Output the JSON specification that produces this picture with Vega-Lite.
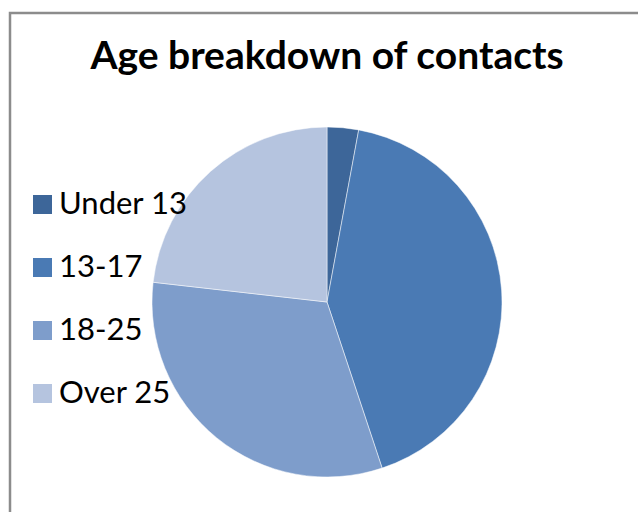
{
  "$schema": "https://vega.github.io/schema/vega-lite/v6.json",
  "autosize": "none",
  "width": 634,
  "height": 578,
  "padding": {"left": 10, "top": 13, "right": -6, "bottom": -79},
  "background": "white",
  "view": {"stroke": "#8c8c8c", "strokeWidth": 2.5},
  "title": {
    "text": "Age breakdown of contacts",
    "font": "Lato",
    "fontSize": 39,
    "fontWeight": "bold",
    "color": "black",
    "anchor": "middle",
    "frame": "group",
    "offset": -64
  },
  "data": {
    "values": [
      {"age": "Under 13", "share": 2.9, "order": 1},
      {"age": "13-17", "share": 42.0, "order": 2},
      {"age": "18-25", "share": 31.9, "order": 3},
      {"age": "Over 25", "share": 23.2, "order": 4}
    ]
  },
  "mark": {"type": "arc", "outerRadius": 175, "stroke": "white", "strokeWidth": 0.5},
  "encoding": {
    "theta": {"field": "share", "type": "quantitative", "stack": true},
    "order": {"field": "order", "type": "quantitative"},
    "color": {
      "field": "age",
      "type": "nominal",
      "scale": {
        "domain": ["Under 13", "13-17", "18-25", "Over 25"],
        "range": ["#3d6699", "#4a7ab4", "#7e9dcb", "#b5c4df"]
      },
      "legend": {
        "title": null,
        "orient": "none",
        "legendX": 17,
        "legendY": 176,
        "symbolType": "square",
        "symbolSize": 361,
        "symbolStrokeWidth": 0,
        "symbolOpacity": 1,
        "labelFont": "Lato",
        "labelFontSize": 31,
        "labelColor": "black",
        "labelOffset": 1,
        "rowPadding": 31,
        "labelLimit": 300
      }
    }
  }
}
